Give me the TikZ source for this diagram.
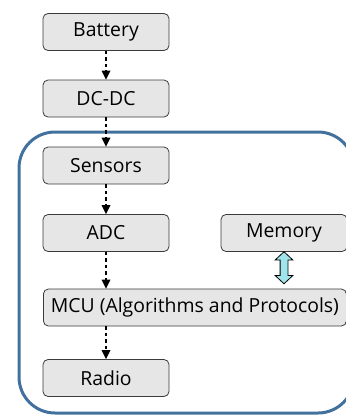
\documentclass[tikz,border=0pt]{standalone}
\usepackage{fontspec}
\setmainfont{Open Sans}
\usetikzlibrary{arrows.meta,shapes.arrows,calc}
\definecolor{boxfill}{HTML}{E7E6E6}
\definecolor{boxline}{HTML}{3A3A3A}
\definecolor{frameblue}{HTML}{41719C}
\definecolor{memcyan}{HTML}{9FE5EA}
\tikzset{
  block/.style={draw=boxline, fill=boxfill, line width=0.8pt, rounded corners=5pt,
    minimum height=37pt, inner sep=0pt, font=\fontsize{19.4}{21}\selectfont},
  flow/.style={line width=2.6pt, dash pattern=on 3.5pt off 3pt,
    -{Triangle[length=9pt,width=9pt,line width=0pt]}, shorten >=0pt},
}
\begin{document}
\begin{tikzpicture}[x=1pt,y=-1pt]
\useasboundingbox (0,0) rectangle (346,416);
\clip (0,0) rectangle (346,416);
% enclosing node boundary
\draw[frameblue, line width=3pt, rounded corners=36pt] (19,132) rectangle (354,413);
% blocks
\node[block, minimum width=126pt] (bat) at (106,32) {Battery};
\node[block, minimum width=126pt] (dcdc) at (106,98.5) {DC-DC};
\node[block, minimum width=126pt] (sen) at (106,165.5) {Sensors};
\node[block, minimum width=126pt] (adc) at (106,233) {ADC};
\node[block, minimum width=126pt] (mem) at (284,233) {Memory};
\node[block, minimum width=303pt, anchor=west] (mcu) at (43,307.5) {MCU (Algorithms and Protocols)};
\node[block, minimum width=126pt] (rad) at (106,378) {Radio};
% energy and data flow
\draw[flow] (bat.south) -- (dcdc.north);
\draw[flow] (dcdc.south) -- (sen.north);
\draw[flow] (sen.south) -- (adc.north);
\draw[flow] (adc.south) -- (adc.south |- mcu.north);
\draw[flow] (adc.south |- mcu.south) -- (rad.north);
% memory access
\coordinate (memend) at (mem.south |- mcu.north);
\node[double arrow, draw=black, fill=memcyan, line width=0.8pt, rotate=90,
  minimum height=32pt, minimum width=17pt, double arrow head extend=5pt,
  inner sep=3.5pt, double arrow tip angle=94] (bus)
  at ($($(mem.south)!0.5!(memend)$)+(0,-2.5)$) {};
\end{tikzpicture}
\end{document}
